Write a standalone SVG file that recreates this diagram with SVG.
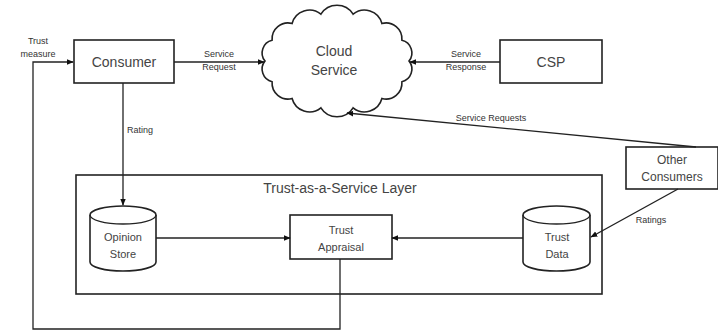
<svg xmlns="http://www.w3.org/2000/svg" width="718" height="331" viewBox="0 0 718 331">
<style>
.box{fill:#fff;stroke:#222;stroke-width:1.6}
.ln{fill:none;stroke:#222;stroke-width:1.3}
.t{font-family:"Liberation Sans",Arial,sans-serif;fill:#444;text-anchor:middle}
.big{font-size:14px}
.mid{font-size:12px}
.sm{font-size:9px;fill:#333}
</style>
<defs>
<marker id="arr" viewBox="0 0 10 10" refX="9" refY="5" markerWidth="7" markerHeight="7" orient="auto" markerUnits="userSpaceOnUse">
<path d="M0,1 L10,5 L0,9 Z" fill="#111"/>
</marker>
</defs>
<rect width="718" height="331" fill="#fff"/>

<g id="layer">
<rect class="box" x="76" y="175" width="526" height="119"/>
<text class="t big" x="340" y="193">Trust-as-a-Service Layer</text>
</g>

<g id="consumer">
<rect class="box" x="74" y="40" width="100" height="43"/>
<text class="t big" x="124" y="67">Consumer</text>
</g>

<g id="cloud">
<path class="box" d="M409,61 A13,13 0 0 1 401.9,81.8 A16,16 0 0 1 381.9,98.5 A18,18 0 0 1 353.1,107.8 A19,19 0 0 1 320.9,107.8 A18,18 0 0 1 292.1,98.5 A16,16 0 0 1 272.1,81.8 A13,13 0 0 1 265,61 A13,13 0 0 1 272.1,40.2 A16,16 0 0 1 292.1,23.5 A18,18 0 0 1 320.9,14.2 A19,19 0 0 1 353.1,14.2 A18,18 0 0 1 381.9,23.5 A16,16 0 0 1 401.9,40.2 A13,13 0 0 1 409,61 Z"/>
<text class="t big" x="334" y="56">Cloud</text>
<text class="t big" x="334" y="75">Service</text>
</g>

<g id="csp">
<rect class="box" x="500" y="40" width="102" height="43"/>
<text class="t big" x="551" y="67">CSP</text>
</g>

<g id="other">
<rect class="box" x="626" y="147" width="92" height="42"/>
<text class="t mid" x="672" y="164">Other</text>
<text class="t mid" x="672" y="181">Consumers</text>
</g>

<g id="opinion">
<path class="box" d="M90,215 A33,9 0 0 1 156,215 L156,262 A33,9 0 0 1 90,262 Z"/>
<path class="ln" d="M90,215 A33,9 0 0 0 156,215"/>
<text class="t mid" x="123" y="241" style="font-size:11px">Opinion</text>
<text class="t mid" x="123" y="258" style="font-size:11px">Store</text>
</g>

<g id="appraisal">
<rect class="box" x="290" y="215" width="102" height="44"/>
<text class="t mid" x="341" y="234" style="font-size:11px">Trust</text>
<text class="t mid" x="341" y="251" style="font-size:11px">Appraisal</text>
</g>

<g id="trustdata">
<path class="box" d="M523,215 A33.5,9 0 0 1 590,215 L590,262 A33.5,9 0 0 1 523,262 Z"/>
<path class="ln" d="M523,215 A33.5,9 0 0 0 590,215"/>
<text class="t mid" x="557" y="241" style="font-size:11px">Trust</text>
<text class="t mid" x="557" y="258" style="font-size:11px">Data</text>
</g>

<g id="connectors">
<path class="ln" d="M174,62 L264,62" marker-end="url(#arr)"/>
<path class="ln" d="M500,62 L410,62" marker-end="url(#arr)"/>
<path class="ln" d="M696,147 L347,113" marker-end="url(#arr)"/>
<path class="ln" d="M123,83 L123,205" marker-end="url(#arr)"/>
<path class="ln" d="M156,238 L290,238" marker-end="url(#arr)"/>
<path class="ln" d="M523,238 L392,238" marker-end="url(#arr)"/>
<path class="ln" d="M678,189 L591,237" marker-end="url(#arr)"/>
<path class="ln" d="M340,259 L340,329 L33,329 L33,62 L73,62" marker-end="url(#arr)"/>
</g>

<g id="labels">
<text class="t sm" x="38" y="44">Trust</text>
<text class="t sm" x="38" y="57">measure</text>
<text class="t sm" x="219" y="57">Service</text>
<text class="t sm" x="219" y="70">Request</text>
<text class="t sm" x="466" y="57">Service</text>
<text class="t sm" x="466" y="70">Response</text>
<text class="t sm" x="491" y="121">Service Requests</text>
<text class="t sm" x="140" y="133">Rating</text>
<text class="t sm" x="651" y="223">Ratings</text>
</g>
</svg>
